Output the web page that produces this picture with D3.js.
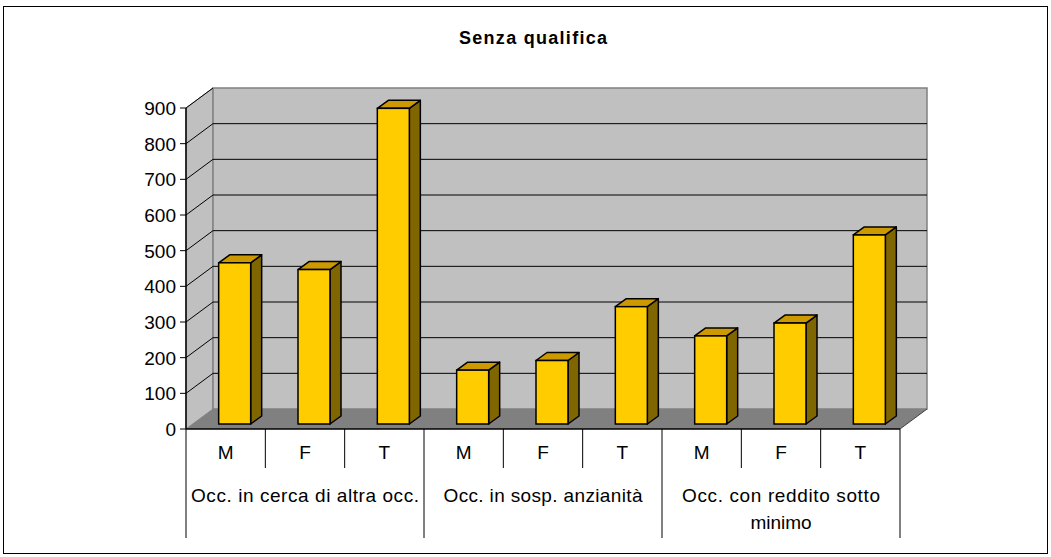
<!DOCTYPE html>
<html>
<head>
<meta charset="utf-8">
<script src="https://cdn.jsdelivr.net/npm/d3@7"></script>
<style>
  html, body { margin: 0; padding: 0; background: #fff; }
  svg { display: block; font-family: Arial, "Liberation Sans", sans-serif; }
</style>
</head>
<body>
<svg id="chart" width="1051" height="557"></svg>
<script>
// ---- data ----
const title = "Senza qualifica";
const groups = ["Occ. in cerca di altra occ.", "Occ. in sosp. anzianità", "Occ. con reddito sotto minimo"];
const sexes = ["M", "F", "T"];
const valuesCerca = [452, 433, 885];
const valuesSosp = [151, 178, 329];
const valuesReddito = [247, 283, 530];
const yTicks = [0, 100, 200, 300, 400, 500, 600, 700, 800, 900];

const seriesByGroup = [valuesCerca, valuesSosp, valuesReddito];
const data = [];
groups.forEach((g, gi) => sexes.forEach((s, si) => data.push({ key: gi + "-" + s, group: g, gi, sex: s, value: seriesByGroup[gi][si] })));

const svg = d3.select("#chart");

// outer border
svg.append("rect").attr("x", 3.5).attr("y", 6.5).attr("width", 1044).attr("height", 547)
  .attr("fill", "#fff").attr("stroke", "#000").attr("stroke-width", 1);

// scales
const x = d3.scaleBand().domain(data.map(d => d.key)).range([186, 900]).padding(0);
const y = d3.scaleLinear().domain([0, 900]).range([429, 108]);
const D = { dx: 27, dy: -20 };      // wall depth
const B = { dx: 11, dy: -8 };       // bar depth
const bOff = { dx: 9, dy: -5 };     // bar front offset into depth
const barW = 32;

const x0 = 186, x1 = 900;
const poly = pts => pts.map(p => p.join(",")).join(" ");

// left wall
svg.append("polygon")
  .attr("points", poly([[x0, y(900)], [x0 + D.dx, y(900) + D.dy], [x0 + D.dx, y(0) + D.dy], [x0, y(0)]]))
  .attr("fill", "#c0c0c0").attr("stroke", "#808080").attr("stroke-width", 1);
// back wall
svg.append("polygon")
  .attr("points", poly([[x0 + D.dx, y(900) + D.dy], [x1 + D.dx, y(900) + D.dy], [x1 + D.dx, y(0) + D.dy], [x0 + D.dx, y(0) + D.dy]]))
  .attr("fill", "#c0c0c0").attr("stroke", "#808080").attr("stroke-width", 1.5);

// gridlines
const grid = svg.append("g");
yTicks.filter(t => t > 0 && t < 900).forEach(t => {
  grid.append("path")
    .attr("d", `M${x0},${y(t)} L${x0 + D.dx},${y(t) + D.dy} L${x1 + D.dx},${y(t) + D.dy}`)
    .attr("fill", "none").attr("stroke", "#000").attr("stroke-width", 1);
});
grid.append("path")
  .attr("d", `M${x0},${y(900)} L${x0 + D.dx},${y(900) + D.dy}`)
  .attr("fill", "none").attr("stroke", "#000").attr("stroke-width", 1);

// floor
svg.append("polygon")
  .attr("points", poly([[x0, y(0)], [x1, y(0)], [x1 + D.dx, y(0) + D.dy], [x0 + D.dx, y(0) + D.dy]]))
  .attr("fill", "#808080").attr("stroke", "none");
svg.append("line").attr("x1", x1).attr("y1", y(0)).attr("x2", x1 + D.dx).attr("y2", y(0) + D.dy)
  .attr("stroke", "#404040").attr("stroke-width", 1);

// bars
const bars = svg.append("g").selectAll("g").data(data).join("g");
bars.each(function (d) {
  const g = d3.select(this);
  const left = x(d.key) + x.bandwidth() / 2 + bOff.dx - barW / 2;
  const right = left + barW;
  const top = y(d.value) + bOff.dy;
  const bottom = y(0) + bOff.dy;
  g.append("polygon")
    .attr("points", poly([[right, top], [right + B.dx, top + B.dy], [right + B.dx, bottom + B.dy], [right, bottom]]))
    .attr("fill", "#806600").attr("stroke", "#000").attr("stroke-width", 1.5).attr("stroke-linejoin", "round");
  g.append("polygon")
    .attr("points", poly([[left, top], [left + B.dx, top + B.dy], [right + B.dx, top + B.dy], [right, top]]))
    .attr("fill", "#cc9900").attr("stroke", "#000").attr("stroke-width", 1.5).attr("stroke-linejoin", "round");
  g.append("rect").attr("x", left).attr("y", top).attr("width", barW).attr("height", bottom - top)
    .attr("fill", "#ffcc00").attr("stroke", "#000").attr("stroke-width", 1.5);
});

// y axis
const yAxis = svg.append("g");
yAxis.append("line").attr("x1", x0).attr("y1", y(900)).attr("x2", x0).attr("y2", y(0))
  .attr("stroke", "#000").attr("stroke-width", 1.5);
yTicks.forEach(t => {
  yAxis.append("line").attr("x1", x0 - 6).attr("x2", x0).attr("y1", y(t)).attr("y2", y(t))
    .attr("stroke", "#000").attr("stroke-width", 1);
  yAxis.append("text").attr("x", 176).attr("y", y(t)).attr("dy", "0.36em")
    .attr("text-anchor", "end").attr("font-size", 19).attr("fill", "#000").text(t);
});

// x axis line
svg.append("line").attr("x1", x0).attr("x2", x1).attr("y1", y(0)).attr("y2", y(0))
  .attr("stroke", "#000").attr("stroke-width", 1.5);

// category dividers
const divs = svg.append("g");
d3.range(data.length + 1).forEach(i => {
  const xx = i < data.length ? x(data[i].key) : x1;
  const isGroup = i % 3 === 0;
  divs.append("line").attr("x1", xx).attr("x2", xx).attr("y1", y(0)).attr("y2", isGroup ? 538 : 468)
    .attr("stroke", "#000").attr("stroke-width", 1);
});

// sex labels
svg.append("g").selectAll("text").data(data).join("text")
  .attr("x", d => x(d.key) + x.bandwidth() / 2)
  .attr("y", 459)
  .attr("text-anchor", "middle").attr("font-size", 19).attr("fill", "#000")
  .text(d => d.sex);

// group labels
const groupLines = [["Occ. in cerca di altra occ."], ["Occ. in sosp. anzianità"], ["Occ. con reddito sotto", "minimo"]];
const groupWidths = [[228], [199], [198, null]];
groups.forEach((g, gi) => {
  const cx = (x(data[gi * 3].key) + x(data[gi * 3 + 2].key) + x.bandwidth()) / 2;
  groupLines[gi].forEach((ln, li) => {
    const t = svg.append("text").attr("x", cx).attr("y", 502 + li * 27)
      .attr("text-anchor", "middle").attr("font-size", 19).attr("fill", "#000")
      .text(ln);
    if (groupWidths[gi][li]) t.attr("textLength", groupWidths[gi][li]).attr("lengthAdjust", "spacing");
  });
});

// title
svg.append("text").attr("x", 533).attr("y", 44).attr("text-anchor", "middle")
  .attr("font-size", 18).attr("font-weight", "bold").attr("fill", "#000")
  .attr("textLength", 148).attr("lengthAdjust", "spacing")
  .text(title);
</script>
</body>
</html>
